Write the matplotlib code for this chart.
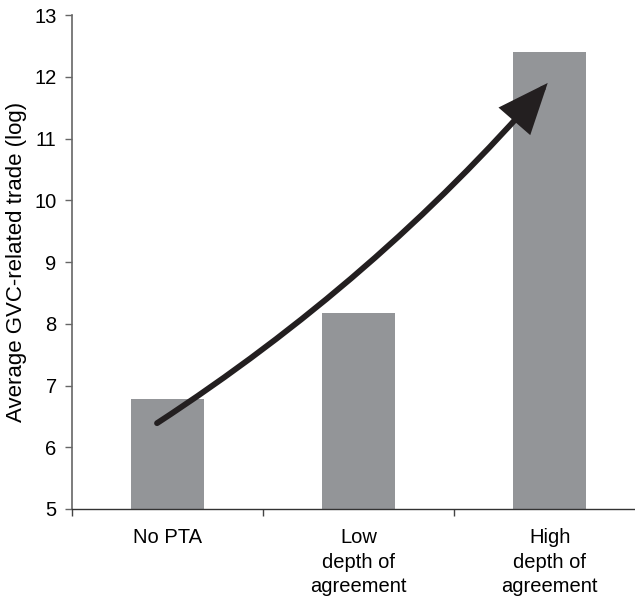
import numpy as np
import matplotlib.pyplot as plt
from matplotlib.patches import FancyArrowPatch

plt.rcParams['font.family'] = ['Liberation Sans', 'DejaVu Sans']

categories = ["No PTA", "Low\ndepth of\nagreement", "High\ndepth of\nagreement"]
values = [6.78, 8.17, 12.40]
arrow_start = (-0.055, 6.39)   # data coords (category index, value)
arrow_end = (1.99, 11.9)

fig = plt.figure(figsize=(6.35, 6.02), dpi=100)
ax = fig.add_axes([0.1134, 0.1545, 0.8866, 0.8205])

x = np.arange(len(categories))
ax.bar(x, values, width=0.38, color='#939598', zorder=2)

ax.set_xlim(-0.5, 2.447)
ax.set_ylim(5, 13)
ax.set_yticks(range(5, 14))

# ticks at category boundaries, labels at centres
ax.set_xticks([-0.5, 0.5, 1.5])
ax.set_xticklabels([])
ax.set_xticks(x, minor=True)
ax.set_xticklabels(categories, minor=True, fontsize=14.5, linespacing=1.35)
ax.tick_params(axis='x', which='minor', length=0, pad=14)
ax.tick_params(axis='x', which='major', length=5, width=1, color='#444444', direction='out')
ax.tick_params(axis='y', length=5, width=1, color='#666666', labelsize=14.5, pad=6)

for s in ['top', 'right']:
    ax.spines[s].set_visible(False)
ax.spines['left'].set_color('#666666')
ax.spines['bottom'].set_color('#333333')
ax.spines['left'].set_linewidth(1.2)
ax.spines['bottom'].set_linewidth(1.0)

ax.set_ylabel("Average GVC-related trade (log)", fontsize=16, labelpad=5)

arr = FancyArrowPatch(arrow_start, arrow_end, connectionstyle="arc3,rad=0.07",
                      arrowstyle="-|>,head_length=29,head_width=12",
                      linewidth=4.2, color='#231f20', zorder=3,
                      shrinkA=0, shrinkB=0, joinstyle='miter')
ax.add_patch(arr)

fig.savefig("out.png", dpi=100)
